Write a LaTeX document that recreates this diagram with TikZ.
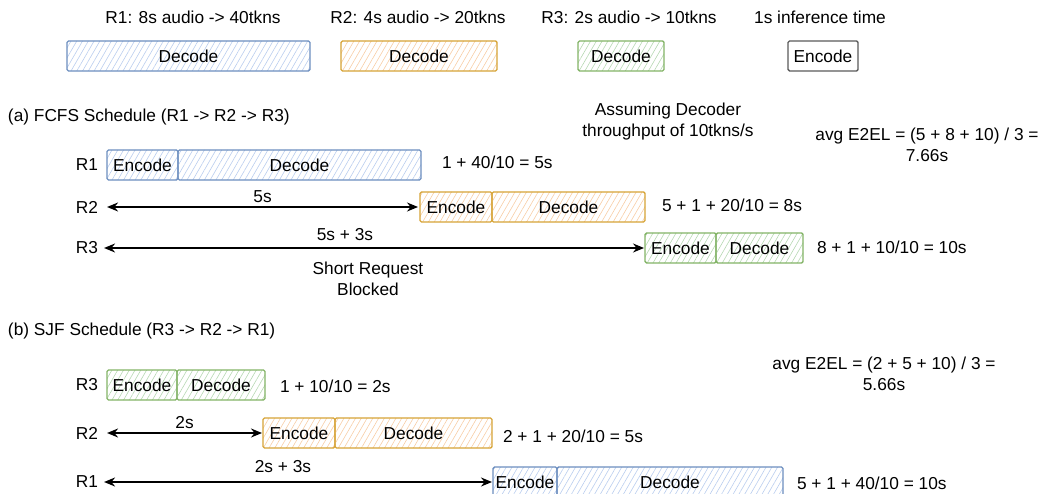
\documentclass[tikz,border=0pt]{standalone}
\usepackage{fontspec}
\setmainfont{Liberation Sans}
\usetikzlibrary{arrows.meta,patterns.meta}
\definecolor{bluestroke}{HTML}{6C8EBF}
\definecolor{bluehatch}{HTML}{B9CDEE}
\definecolor{orstroke}{HTML}{D6A336}
\definecolor{orhatch}{HTML}{F7CDA5}
\definecolor{grstroke}{HTML}{82B366}
\definecolor{grhatch}{HTML}{B6D8B2}
\definecolor{gystroke}{HTML}{5A5A5A}
\tikzset{
  blk/.style={draw, line width=1.4pt, rounded corners=1.5pt, inner sep=0pt, outer sep=0pt,
    minimum height=30pt, text=black},
  hatch/.style={pattern={Lines[angle=60,distance=5pt,line width=0.6pt]}},
  bluebox/.style={blk, hatch, draw=bluestroke, pattern color=bluehatch},
  orbox/.style={blk, hatch, draw=orstroke, pattern color=orhatch},
  grbox/.style={blk, hatch, draw=grstroke, pattern color=grhatch},
  gybox/.style={blk, draw=gystroke, fill=white},
  txt/.style={inner sep=0pt, outer sep=0pt, text=black},
  lft/.style={txt, anchor=west},
  arr/.style={line width=1.6pt, {Stealth[length=11pt,width=9pt]}-{Stealth[length=11pt,width=9pt]}},
}
\begin{document}
\begin{tikzpicture}[x=1pt,y=-1pt,font=\fontsize{17.3}{21}\selectfont]
\useasboundingbox (0,0) rectangle (1043,494);
\clip (0,0) rectangle (1043,494);

% legend
\node[txt] (t1) at (193,17) {R1: 8s audio -> 40tkns};
\node[txt] (t2) at (418,17) {R2: 4s audio -> 20tkns};
\node[txt] (t3) at (629,17) {R3: 2s audio -> 10tkns};
\node[txt] (t4) at (820,17) {1s inference time};
\node[bluebox, minimum width=243pt] (l1) at (188.5,56) {Decode};
\node[orbox, minimum width=156pt] (l2) at (419,56) {Decode};
\node[grbox, minimum width=86pt] (l3) at (621,56) {Decode};
\node[gybox, minimum width=70pt] (l4) at (823,56) {Encode};

% (a) FCFS
\node[lft] (ha) at (8,117) {(a) FCFS Schedule (R1 -> R2 -> R3)};
\node[txt, align=center] (assume) at (668,122) {Assuming Decoder\\throughput of 10tkns/s};
\node[txt, align=center] (avga) at (927,145) {avg E2EL = (5 + 8 + 10) / 3 =\\7.66s};

\node[txt] (ra1) at (87,165) {R1};
\node[bluebox, minimum width=71pt] (a1e) at (142.5,165) {Encode};
\node[bluebox, minimum width=243pt] (a1d) at (299.5,165) {Decode};
\node[lft] (ca1) at (442,162) {1 + 40/10 = 5s};

\node[txt] (ra2) at (87,207) {R2};
\node[orbox, minimum width=72pt] (a2e) at (456,207) {Encode};
\node[orbox, minimum width=153pt] (a2d) at (568.5,207) {Decode};
\node[lft] (ca2) at (662,205) {5 + 1 + 20/10 = 8s};
\draw[arr] ([xshift=9pt]ra2.east) -- ([xshift=-2pt]a2e.west) node[txt, midway, above=4pt] {5s};

\node[txt] (ra3) at (87,248) {R3};
\node[grbox, minimum width=71pt] (a3e) at (680.5,248) {Encode};
\node[grbox, minimum width=87pt] (a3d) at (759.5,248) {Decode};
\node[lft] (ca3) at (817,247) {8 + 1 + 10/10 = 10s};
\draw[arr] ([xshift=6pt]ra3.east) -- ([xshift=-1pt]a3e.west);
\node[txt] (wa3) at (345,235) {5s + 3s};
\node[txt, align=center] (blocked) at (368,279) {Short Request\\Blocked};

% (b) SJF
\node[lft] (hb) at (8,331) {(b) SJF Schedule (R3 -> R2 -> R1)};
\node[txt, align=center] (avgb) at (884,374) {avg E2EL = (2 + 5 + 10) / 3 =\\5.66s};

\node[txt] (rb3) at (87,385) {R3};
\node[grbox, minimum width=70pt] (b3e) at (142,385) {Encode};
\node[grbox, minimum width=88pt] (b3d) at (221,385) {Decode};
\node[lft] (cb3) at (280,386) {1 + 10/10 = 2s};

\node[txt] (rb2) at (87,433) {R2};
\node[orbox, minimum width=72pt] (b2e) at (299,433) {Encode};
\node[orbox, minimum width=157pt] (b2d) at (413.5,433) {Decode};
\node[lft] (cb2) at (503,436) {2 + 1 + 20/10 = 5s};
\draw[arr] ([xshift=9pt]rb2.east) -- ([xshift=-1pt]b2e.west) node[txt, midway, above=4pt] {2s};

\node[txt] (rb1) at (87,482) {R1};
\node[bluebox, minimum width=64pt] (b1e) at (525,482) {Encode};
\node[bluebox, minimum width=226pt] (b1d) at (670,482) {Decode};
\node[lft] (cb1) at (797,483) {5 + 1 + 40/10 = 10s};
\draw[arr] ([xshift=6pt]rb1.east) -- ([xshift=-1pt]b1e.west);
\node[txt] (wb1) at (283,467) {2s + 3s};
\end{tikzpicture}
\end{document}
